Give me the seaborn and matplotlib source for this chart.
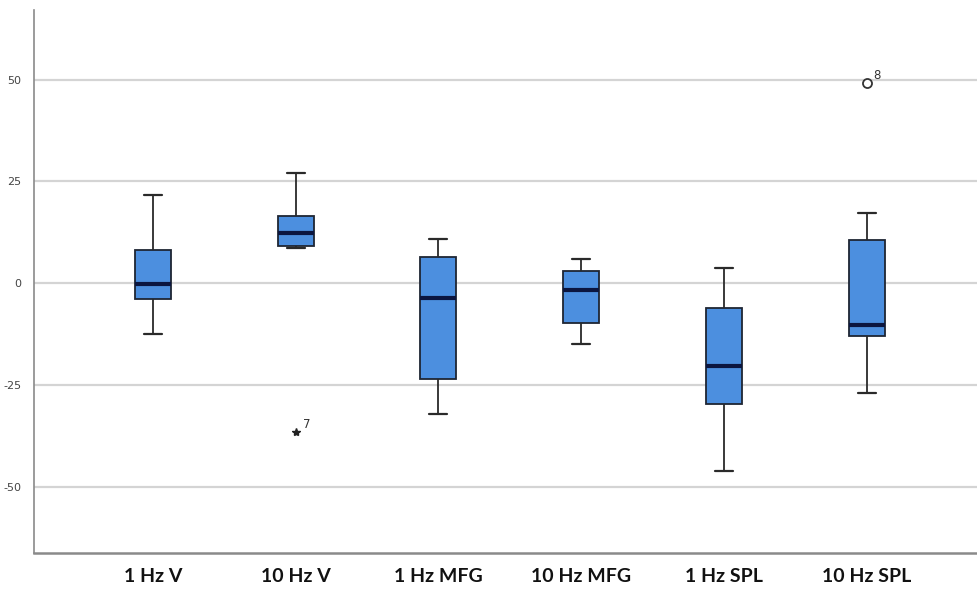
import numpy as np
import pandas as pd
import matplotlib
matplotlib.use("Agg")
import matplotlib.pyplot as plt
import seaborn as sns

# ---- data ----
categories = ["1 Hz V", "10 Hz V", "1 Hz MFG", "10 Hz MFG", "1 Hz SPL", "10 Hz SPL"]
whisker_low = [-12.5, 8.7, -32.2, -14.9, -46.2, -27.0]
q1 = [-3.8, 9.1, -23.5, -9.8, -29.8, -12.9]
median = [-0.2, 12.2, -3.6, -1.8, -20.4, -10.2]
q3 = [8.2, 16.6, 6.4, 3.0, -6.0, 10.5]
whisker_high = [21.7, 27.0, 10.9, 6.0, 3.6, 17.3]

outlier_cat = ["10 Hz V", "10 Hz SPL"]
outlier_val = [-36.5, 49.1]
outlier_case = ["7", "8"]
outlier_kind = ["extreme", "outlier"]

yticks = [-50, -25, 0, 25, 50]

# long-form table: five-number summary per group (whiskers span min..max)
rows = []
for c, a, b, m, d, e in zip(categories, whisker_low, q1, median, q3, whisker_high):
    for v in (a, b, m, d, e):
        rows.append({"group": c, "value": v})
df = pd.DataFrame(rows)

sns.set_theme(style="white")
plt.rcParams["font.family"] = ["DejaVu Sans"]

fig = plt.figure(figsize=(9.78, 5.91), dpi=100)
ax = fig.add_axes([34 / 978, 1 - 553 / 591, 1 - 34 / 978, (553 - 10) / 591])

ax.set_axisbelow(True)
for t in yticks:
    ax.axhline(t, color="#d4d4d4", lw=1.6, zorder=0)

sns.boxplot(
    data=df, x="group", y="value", order=categories, ax=ax,
    whis=(0, 100), width=0.252, color="#4C8FDF", saturation=1,
    showfliers=False,
    boxprops=dict(edgecolor="#1e2533", linewidth=1.3),
    medianprops=dict(color="#0b1640", linewidth=3.0),
    whiskerprops=dict(color="#2a2a2a", linewidth=1.3),
    capprops=dict(color="#2a2a2a", linewidth=1.6),
)

pos = {c: i for i, c in enumerate(categories)}
for c, v, lab, kind in zip(outlier_cat, outlier_val, outlier_case, outlier_kind):
    x = pos[c]
    if kind == "extreme":
        ax.plot([x], [v], marker="*", ms=6, color="#222222", linestyle="none", zorder=5)
    else:
        ax.plot([x], [v], marker="o", ms=6.5, mfc="white", mec="#333333", mew=1.3,
                linestyle="none", zorder=5)
    ax.annotate(lab, (x, v), xytext=(5, 3), textcoords="offset points",
                fontsize=8.5, color="#333333")

ax.set_xlim(-0.833, 5.78)
ax.set_ylim(-66.3, 67.1)
ax.set_yticks(yticks)
ax.set_yticklabels([str(t) for t in yticks])
ax.set_xticks(range(len(categories)))
ax.set_xticklabels(categories)
ax.set_xlabel("")
ax.set_ylabel("")

ax.tick_params(axis="y", length=0, pad=9, labelsize=8, labelcolor="#444444")
ax.tick_params(axis="x", length=0, pad=11, labelsize=14, labelcolor="#111111")
for lab in ax.get_xticklabels():
    lab.set_fontweight("bold")
    lab.set_family(["Lato", "DejaVu Sans"])

for s in ["top", "right"]:
    ax.spines[s].set_visible(False)
ax.spines["left"].set_color("#8a8a8a")
ax.spines["left"].set_linewidth(1.2)
ax.spines["bottom"].set_color("#8a8a8a")
ax.spines["bottom"].set_linewidth(1.8)

fig.savefig("out.png", dpi=100, facecolor="white")
